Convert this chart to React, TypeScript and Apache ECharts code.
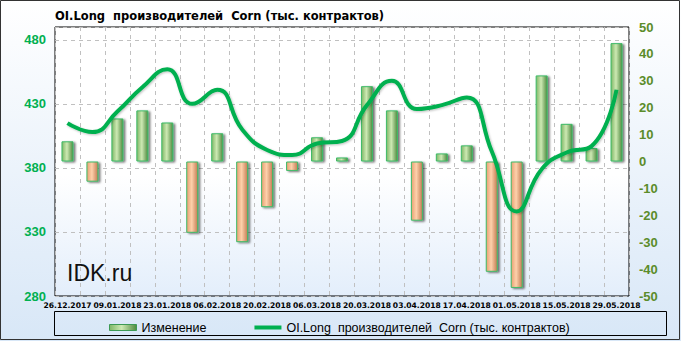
import React, { useEffect, useRef } from "react";
import * as echarts from "echarts";

const categories = [
  "26.12.2017", "02.01.2018", "09.01.2018", "16.01.2018", "23.01.2018", "30.01.2018",
  "06.02.2018", "13.02.2018", "20.02.2018", "27.02.2018", "06.03.2018", "13.03.2018",
  "20.03.2018", "27.03.2018", "03.04.2018", "10.04.2018", "17.04.2018", "24.04.2018",
  "01.05.2018", "08.05.2018", "15.05.2018", "22.05.2018", "29.05.2018",
];
const changeValues = [
  7.5, -7.5, 16, 19, 14.5, -26.5, 10.5, -30, -17, -3.5, 9, 1.5,
  28, 19, -22, 3, 6, -41, -47, 32, 14, 5, 44,
];
const oiLongValues = [
  415, 408, 424, 443, 457, 430, 441, 410, 394, 390, 399, 401,
  429, 448, 426, 429, 435, 393, 346, 379, 392, 397, 441,
];
const leftTicks = { min: 280, max: 490, interval: 50 };
const rightTicks = { min: -50, max: 50, interval: 10 };
const title = "OI.Long  производителей  Corn (тыс. контрактов)";
const barName = "Изменение";
const lineName = "OI.Long  производителей  Corn (тыс. контрактов)";

const greenFill = new echarts.graphic.LinearGradient(0, 0, 1, 0, [
  { offset: 0, color: "#7fb766" },
  { offset: 0.45, color: "#cde9b3" },
  { offset: 1, color: "#4f8a3f" },
]);
const orangeFill = new echarts.graphic.LinearGradient(0, 0, 1, 0, [
  { offset: 0, color: "#e9a071" },
  { offset: 0.45, color: "#fdd1ab" },
  { offset: 1, color: "#c47b52" },
]);

export default function App() {
  const ref = useRef<HTMLDivElement>(null);
  useEffect(() => {
    if (!ref.current) return;
    const chart = echarts.init(ref.current, null, { renderer: "svg" });
    const bg = new echarts.graphic.LinearGradient(0, 0, 0, 1, [
      { offset: 0, color: "#ffffff" },
      { offset: 1, color: "#d8e7f7" },
    ]);
    const plotBg = new echarts.graphic.LinearGradient(0, 0, 0, 1, [
      { offset: 0, color: "#ffffff" },
      { offset: 0.55, color: "#ffffff" },
      { offset: 1, color: "#e3eefb" },
    ]);
    chart.setOption({
      animation: false,
      backgroundColor: bg,
      title: {
        text: title,
        left: 50,
        top: 5,
        textStyle: { fontFamily: "DejaVu Sans", fontWeight: "bold", fontSize: 11.5, color: "#000" },
      },
      grid: {
        left: 55,
        right: 52,
        top: 27,
        bottom: 45,
        show: true,
        backgroundColor: plotBg,
        borderColor: "#000",
        borderWidth: 1,
      },
      legend: {
        left: 104,
        top: 316,
        itemGap: 48,
        itemWidth: 27,
        itemHeight: 6,
        textStyle: { fontFamily: "Liberation Sans", fontSize: 12.5, color: "#000" },
        data: [
          {
            name: barName,
            icon: "rect",
            itemStyle: { color: greenFill, borderColor: "#3c9a55", borderWidth: 1 },
          },
          {
            name: lineName,
            icon: "path://M0,0H27V4H0Z",
            itemStyle: { color: "#00b050", borderWidth: 0 },
          },
        ],
      },
      graphic: [
        {
          type: "rect",
          shape: { x: 54.5, y: 311.5, width: 612, height: 24 },
          style: { fill: "none", stroke: "#000", lineWidth: 1 },
          silent: true,
          z: 0,
        },
        {
          type: "rect",
          shape: { x: 0.5, y: 0.5, width: 679, height: 339 },
          style: { fill: "none", stroke: "#333", lineWidth: 1 },
          silent: true,
        },
        {
          type: "text",
          left: 67,
          top: 261,
          style: { text: "IDK.ru", fontFamily: "Liberation Sans", fontSize: 23, fill: "#111" },
          z: 5,
        },
      ],
      xAxis: {
        type: "category",
        data: categories,
        boundaryGap: true,
        axisLine: { show: false },
        axisTick: { show: false },
        axisLabel: {
          interval: 1,
          margin: 5,
          showMinLabel: true,
          showMaxLabel: true,
          hideOverlap: false,
          fontFamily: "DejaVu Sans",
          fontWeight: "bold",
          fontSize: 7.6,
          color: "#000",
        },
        splitLine: {
          show: true,
          interval: 0,
          lineStyle: { color: "#c0c0c0", type: [4, 4], width: 1 },
        },
      },
      yAxis: [
        {
          type: "value",
          min: leftTicks.min,
          max: leftTicks.max,
          interval: leftTicks.interval,
          axisLine: { show: false },
          axisTick: { show: false },
          axisLabel: {
            showMaxLabel: false,
            margin: 9,
            fontFamily: "Liberation Sans",
            fontWeight: "bold",
            fontSize: 13,
            color: "#00b050",
          },
          splitLine: { show: true, lineStyle: { color: "#c0c0c0", type: [4, 4], width: 1 } },
        },
        {
          type: "value",
          min: rightTicks.min,
          max: rightTicks.max,
          interval: rightTicks.interval,
          axisLine: { show: false },
          axisTick: { show: false },
          axisLabel: {
            margin: 10,
            fontFamily: "Liberation Sans",
            fontWeight: "bold",
            fontSize: 13,
            color: "#5b8c2a",
          },
          splitLine: { show: false },
        },
      ],
      series: [
        {
          name: barName,
          type: "bar",
          yAxisIndex: 1,
          barWidth: 12,
          z: 2,
          data: changeValues.map((v) => ({
            value: v,
            itemStyle: {
              color: v >= 0 ? greenFill : orangeFill,
              borderColor: "#3dbb68",
              borderWidth: 1,
              shadowColor: "rgba(0,0,0,0.55)",
              shadowBlur: 2,
              shadowOffsetX: 2,
              shadowOffsetY: 1,
            },
          })),
        },
        {
          name: lineName,
          type: "line",
          yAxisIndex: 0,
          smooth: 0.5,
          symbol: "none",
          z: 3,
          data: oiLongValues,
          itemStyle: { color: "#00b050" },
          lineStyle: {
            color: "#00b050",
            width: 4,
            shadowColor: "rgba(0,0,0,0.25)",
            shadowBlur: 2,
            shadowOffsetX: 1,
            shadowOffsetY: 1,
          },
        },
      ],
    });
    return () => chart.dispose();
  }, []);
  return (
    <div
      ref={ref}
      style={{ position: "fixed", left: 0, top: 0, width: 681, height: 341 }}
    />
  );
}
